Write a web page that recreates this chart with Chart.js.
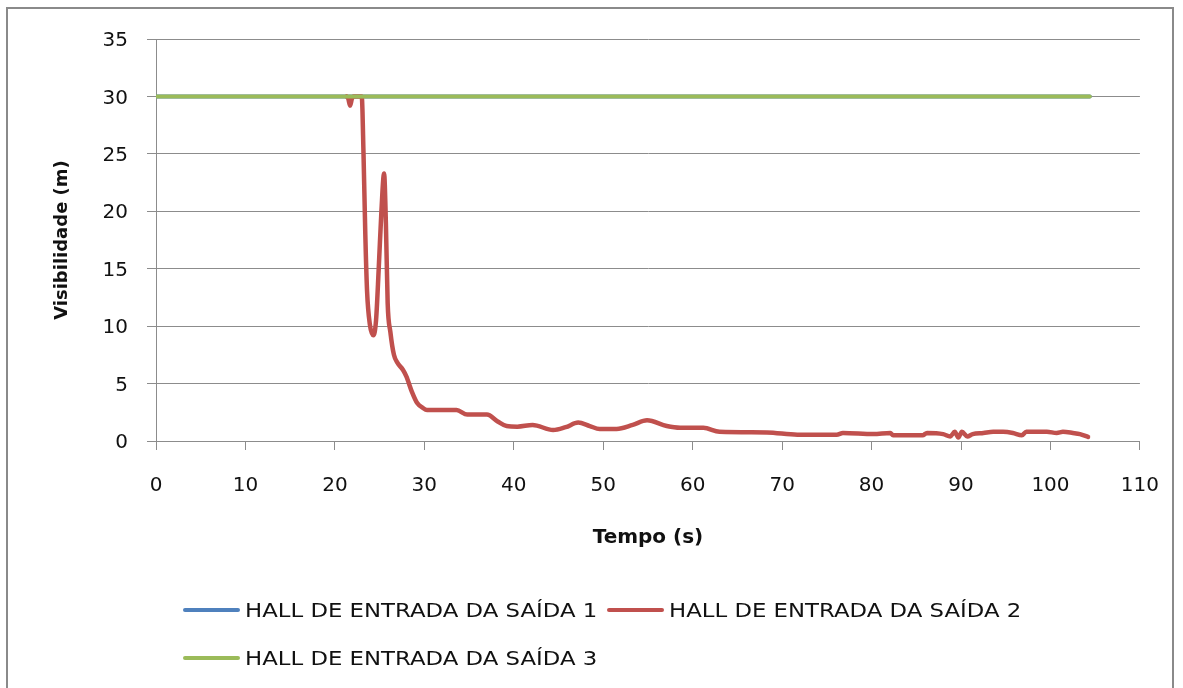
<!DOCTYPE html>
<html>
<head>
<meta charset="utf-8">
<script src="https://cdn.jsdelivr.net/npm/chart.js@4.4.1/dist/chart.umd.min.js"></script>
<style>
  html, body { margin: 0; padding: 0; background: #fff; }
  #wrap { position: relative; width: 1183px; height: 688px; overflow: hidden; }
  #frame { position: absolute; left: 6px; top: 7px; width: 1168px; height: 700px; border: 2px solid #8a8a8a; box-sizing: border-box; }
  canvas { position: absolute; left: 0; top: 0; }
  .leg { position: absolute; height: 30px; display: flex; align-items: center; }
  .leg .ln { width: 57px; height: 4px; border-radius: 2px; margin-right: 5px; }
  .leg .tx { font-family: "DejaVu Sans", sans-serif; font-size: 20px; color: #111; white-space: nowrap; transform: scaleX(1.14); transform-origin: left center; }
</style>
</head>
<body>
<div id="wrap">
  <div id="frame"></div>
  <canvas id="c" width="1183" height="688"></canvas>
  <div id="legend"></div>
</div>
<script>
// ---- data ----
const seriesNames = ["HALL DE ENTRADA DA SAÍDA 1", "HALL DE ENTRADA DA SAÍDA 2", "HALL DE ENTRADA DA SAÍDA 3"];
const xTicks = [0, 10, 20, 30, 40, 50, 60, 70, 80, 90, 100, 110];
const yTicks = [0, 5, 10, 15, 20, 25, 30, 35];

const timeSaida1 = [0, 104.4];
const visSaida1 = [30, 30];

const timeSaida3 = [0, 104.4];
const visSaida3 = [30, 30];

const timeSaida2 = [21.3, 21.5, 21.7, 21.9, 22.1, 23.0, 23.2, 23.4, 23.6, 23.9, 24.3, 24.6, 24.9, 25.2, 25.5, 25.7, 25.9, 26.2, 26.6, 27.0, 27.6, 28.0, 28.6, 29.2, 29.8, 30.3, 33.6, 34.8, 37.0, 38.2, 39.2, 40.4, 42.1, 44.4, 45.8, 47.2, 48.5, 49.6, 51.5, 53.3, 54.9, 57.1, 58.6, 61.2, 63.0, 68.3, 71.7, 76.1, 76.8, 80.2, 82.1, 82.4, 85.7, 86.2, 88.0, 88.8, 89.3, 89.7, 90.1, 90.7, 91.3, 92.5, 93.6, 94.7, 95.8, 96.8, 97.3, 99.6, 100.7, 101.4, 102.5, 103.3, 104.2];
const visSaida2 = [30, 29.8, 29.2, 29.8, 30, 30, 25, 18, 13, 10.2, 9.2, 10.5, 15, 20, 23.3, 19, 12, 9.5, 7.5, 6.8, 6.2, 5.6, 4.3, 3.3, 2.9, 2.7, 2.7, 2.3, 2.3, 1.7, 1.3, 1.25, 1.4, 0.95, 1.2, 1.6, 1.3, 1.05, 1.05, 1.4, 1.8, 1.3, 1.15, 1.15, 0.8, 0.75, 0.55, 0.55, 0.7, 0.6, 0.7, 0.5, 0.5, 0.7, 0.6, 0.4, 0.8, 0.3, 0.8, 0.4, 0.6, 0.7, 0.8, 0.8, 0.7, 0.5, 0.8, 0.8, 0.7, 0.8, 0.7, 0.6, 0.35];

const colors = ["#4F81BD", "#C0504D", "#9BBB59"];

function pts(xs, ys) { return xs.map((x, i) => ({ x: x, y: ys[i] })); }

const gridColor = "#8c8c8c";
const tickFont = { family: "DejaVu Sans", size: 20 };

const chart = new Chart(document.getElementById("c"), {
  type: "line",
  data: {
    datasets: [
      { label: seriesNames[0], data: pts(timeSaida1, visSaida1), borderColor: colors[0], backgroundColor: colors[0], order: 2 },
      { label: seriesNames[1], data: pts(timeSaida2, visSaida2), borderColor: colors[1], backgroundColor: colors[1], order: 1, borderWidth: 4.5 },
      { label: seriesNames[2], data: pts(timeSaida3, visSaida3), borderColor: colors[2], backgroundColor: colors[2], order: 0 }
    ]
  },
  options: {
    responsive: false,
    animation: false,
    layout: { padding: { left: 0, right: 43, top: 39, bottom: 137 } },
    elements: {
      point: { radius: 0 },
      line: { borderWidth: 4, cubicInterpolationMode: "monotone", borderCapStyle: "round", borderJoinStyle: "round" }
    },
    plugins: { legend: { display: false }, tooltip: { enabled: false } },
    scales: {
      x: {
        type: "linear",
        min: xTicks[0], max: xTicks[xTicks.length - 1],
        afterBuildTicks: (s) => { s.ticks = xTicks.map(v => ({ value: v })); },
        afterFit: (s) => { s.height = 110; },
        grid: { drawOnChartArea: false, drawTicks: true, tickLength: 9, color: gridColor },
        border: { display: true, color: gridColor, width: 1 },
        ticks: { font: tickFont, color: "#111", padding: 24, maxRotation: 0 },
        title: { display: true, text: "Tempo (s)", font: { family: "DejaVu Sans", size: 20, weight: "bold" }, color: "#111", padding: { top: 0, bottom: 1 } }
      },
      y: {
        min: yTicks[0], max: yTicks[yTicks.length - 1],
        afterBuildTicks: (s) => { s.ticks = yTicks.map(v => ({ value: v })); },
        afterFit: (s) => { s.width = 156; },
        grid: { drawTicks: true, tickLength: 9, color: gridColor },
        border: { display: true, color: gridColor, width: 1 },
        ticks: { font: tickFont, color: "#111", padding: 19, labelOffset: 2 },
        title: { display: true, text: "Visibilidade (m)", font: { family: "DejaVu Sans", size: 18, weight: "bold" }, color: "#111", padding: { top: 52, bottom: 0 } }
      }
    }
  }
});

// HTML legend built from datasets
const legendPos = [ { left: 183, top: 595 }, { left: 607, top: 595 }, { left: 183, top: 643 } ];
const legendEl = document.getElementById("legend");
chart.data.datasets.forEach((ds, i) => {
  const d = document.createElement("div");
  d.className = "leg";
  d.style.left = legendPos[i].left + "px";
  d.style.top = legendPos[i].top + "px";
  const ln = document.createElement("div"); ln.className = "ln"; ln.style.background = ds.borderColor;
  const tx = document.createElement("div"); tx.className = "tx"; tx.textContent = ds.label;
  d.appendChild(ln); d.appendChild(tx);
  legendEl.appendChild(d);
});
</script>
</body>
</html>
